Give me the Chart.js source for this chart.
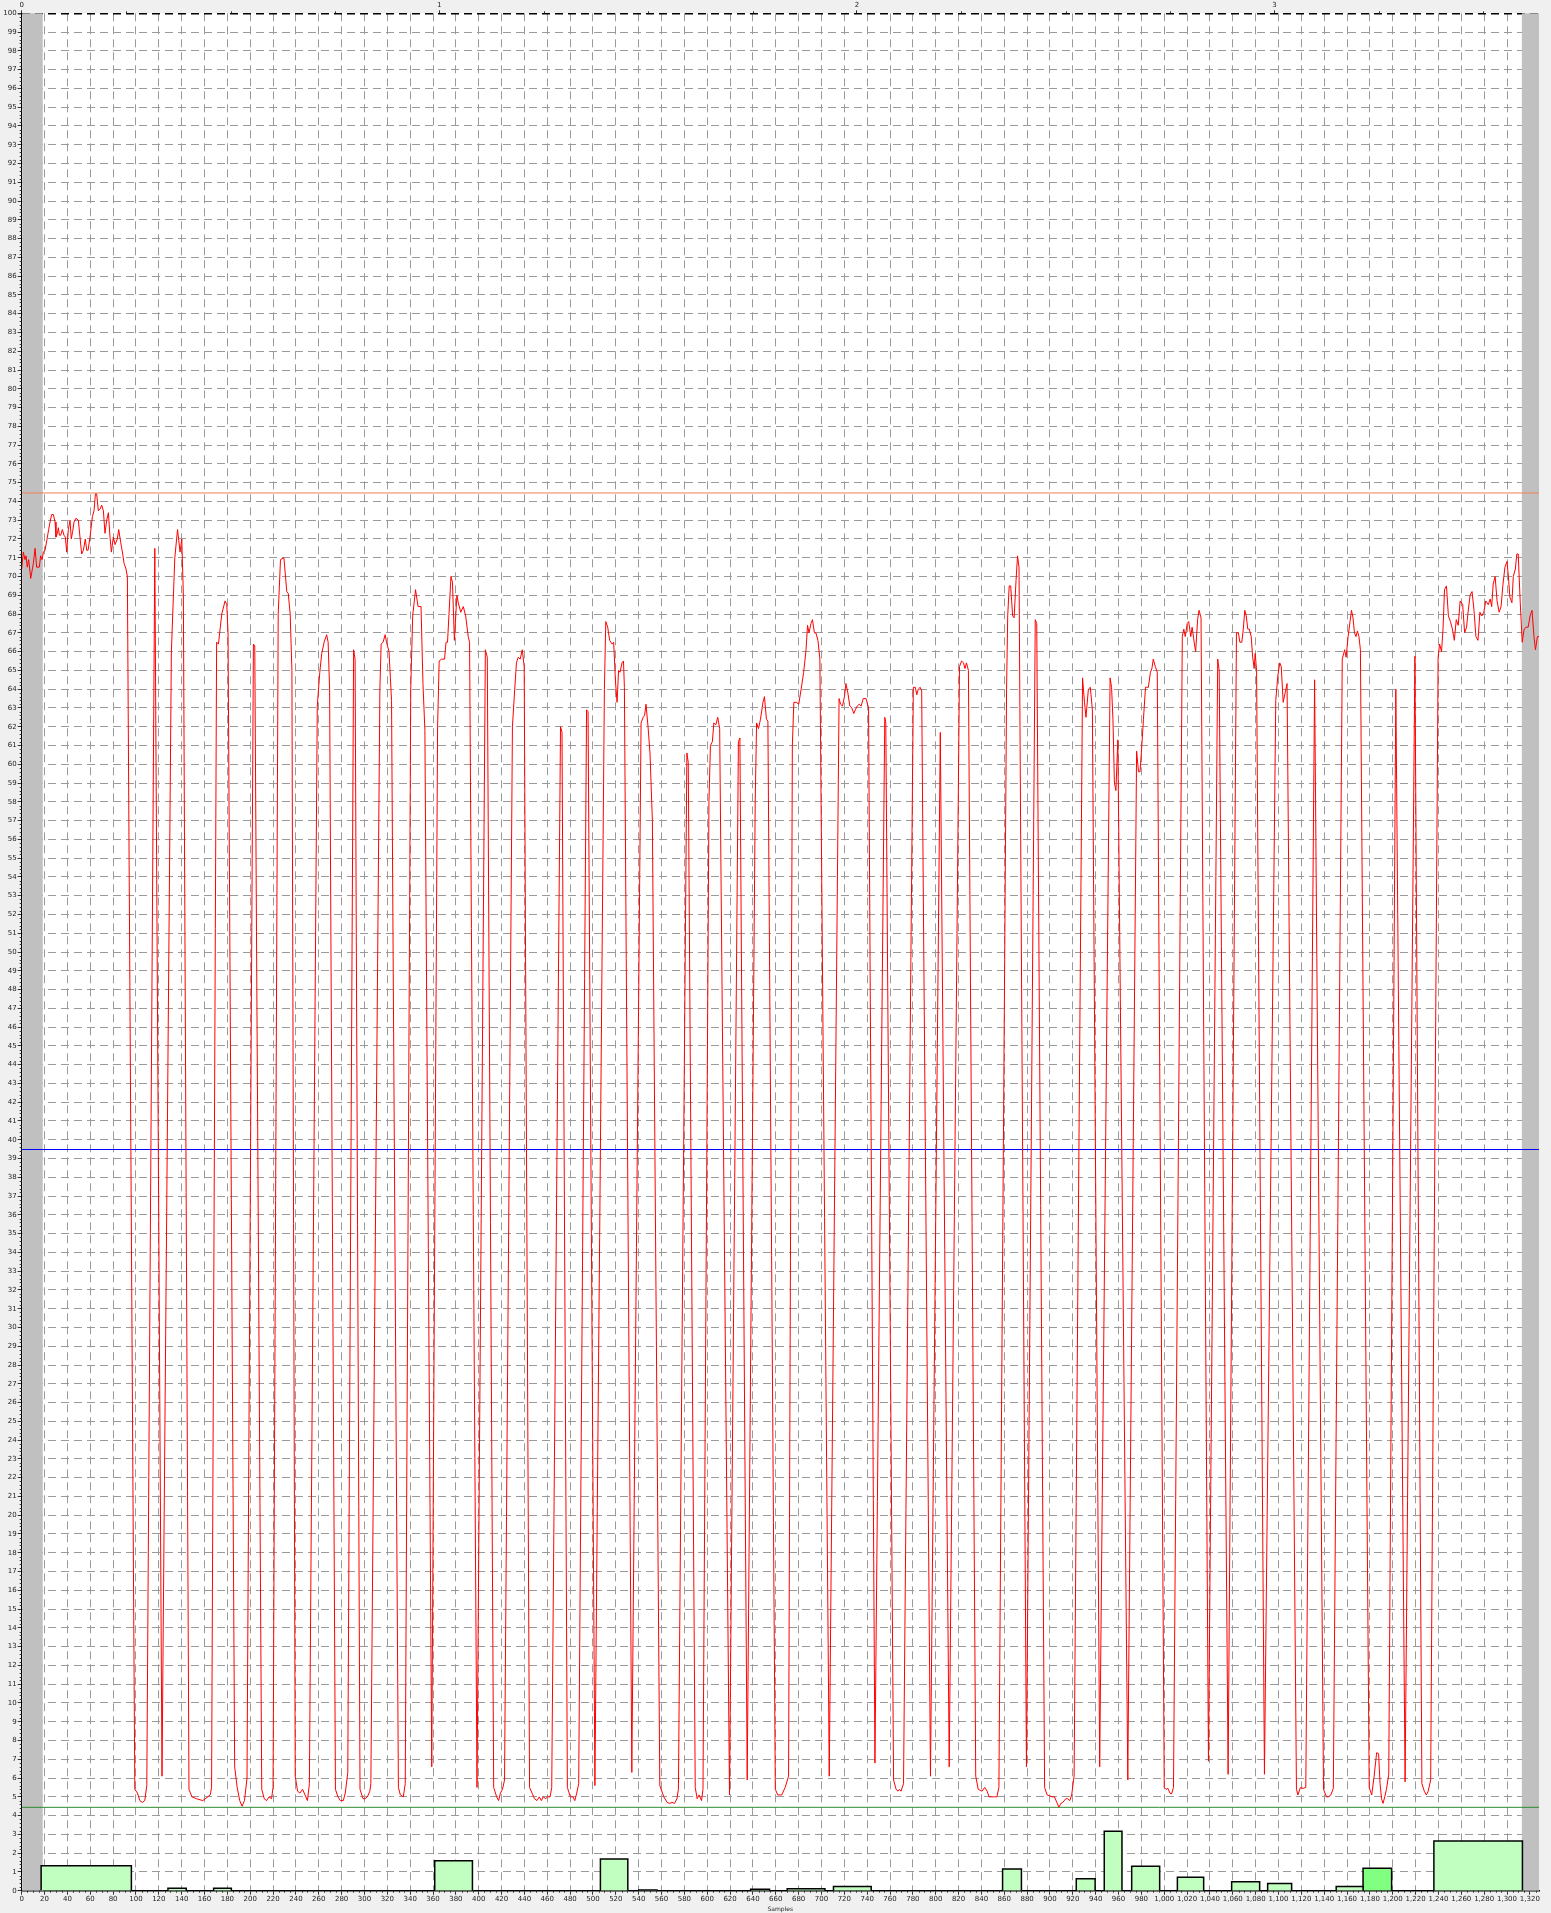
<!DOCTYPE html>
<html>
<head>
<meta charset="utf-8">
<script src="https://cdn.jsdelivr.net/npm/chart.js@4.4.0/dist/chart.umd.min.js"></script>
<style>
html, body { margin: 0; padding: 0; background: #f0f0f0; }
canvas { display: block; }
</style>
</head>
<body>
<canvas id="signalChart" width="1551" height="1913"></canvas>
<script>
// signal trace: [sample, value]
const signalTrace = [
  [0,70.4],[1.4,71.3],[2.9,70.9],[3.8,71.1],[4.9,70.5],[6.1,70.9],[7.9,69.9],[10.2,70.7],[11.7,71.5],[13.1,70.5],[15.4,70.5],[16.6,71.1],[17.8,70.9],[19,71.3],[20.4,71.4],[21.9,71.9],[23.6,72.5],[24.8,72.9],[26.2,73.3],[27.7,73.3],[29.2,72.9],[30,72.1],[31.2,72.3],[32.1,72.6],[33,72.2],[34.1,72.2],[35.6,72.5],[37,72.2],[38.2,72.1],[39.4,71.3],[40.8,72.5],[42.3,73],[43.4,72],[44.6,72.4],[45.8,72.9],[47.5,73.1],[49.6,73],[51,72.1],[52.5,71.2],[54,71.4],[55.7,72],[56.9,71.4],[58.1,71.4],[59.8,72.1],[61.9,73.2],[63.3,73.5],[64.5,74.4],[65.6,74.4],[67.1,73.5],[68.6,73.6],[70,73.8],[71.5,73.5],[72.9,72.3],[74.4,73],[75.9,73.4],[77.3,72.1],[78.5,71.3],[80.2,72.1],[81.7,71.7],[83.7,72],[84.9,72.5],[86.7,71.8],[88.4,71.2],[89.6,70.7],[91.3,70.4],[92.5,70],
  [99,5.4],[101.3,5.2],[103.4,4.8],[105.6,4.7],[107.7,4.8],[109.5,5.6],
  [116.5,71.5],
  [122.8,6.1],
  [131,66],[134,71],[136.4,72.5],[137.5,71.9],[138.6,71.3],[140.1,72],[141.5,69],
  [146.4,5.4],[149,5],[152.9,4.9],[158.5,4.8],[165,5.1],[166.2,5.5],
  [170.6,66.5],[172.2,66.4],[175.1,68],[178,68.7],[179.5,68.5],[180.6,67],
  [186.4,6.6],[188.6,5.5],[190.8,4.8],[192.9,4.5],[195,4.8],[197.2,6],
  [202.8,66.4],[204,66.3],
  [210.1,5.4],[212.3,4.9],[214.4,4.8],[216.5,5],[218.7,4.9],[220,5.5],
  [224.5,68],[226.5,70.9],[229.5,71],[232,69.2],[233.3,69.1],[235,68],[236.5,65],
  [239.4,6.1],[241.5,5.3],[243.5,5.2],[245.8,5.4],[248,5.1],[250.1,4.8],[251.8,5.7],
  [258.7,63.1],[260.9,64.9],[262.6,65.9],[264.7,66.5],[266.9,66.9],[268.2,66.5],[269.5,64],
  [274.6,5.4],[276.8,5],[278.9,4.8],[281.5,4.8],[283.2,5.2],[285.4,6.3],
  [290.5,66.1],[291.8,65.6],
  [296.1,5.4],[298.7,4.9],[300.5,4.9],[302.6,5],[304.7,5.3],[305.6,5.7],
  [313.5,64],[314.6,66.4],[316.3,66.5],[318.1,66.9],[319.3,66.5],[321.5,66],[323.7,63.4],
  [329.7,5.5],[331.4,5.1],[334,5],[335.7,5.7],
  [340.5,64],[342.2,67.9],[344.7,69.3],[346.9,68.4],[349.5,68.4],[351.2,64.3],[352.9,61.8],
  [358.9,6.6],
  [364,62],[365.4,65.5],[367.5,65.6],[370.1,65.6],[371.4,66.5],[372.7,66.5],[375.7,70],[377,69.7],[378.7,66.6],[380.9,69],[382.1,68.6],[384.3,68.1],[386.5,68.4],[388.6,67.9],[390.8,66.8],[392,66.5],
  [398.5,5.5],
  [405.8,66.1],[407.5,65.7],
  [413.1,5.5],[415.7,5],[417.4,4.8],[419,5.2],[420.8,5.4],[422.6,5.9],
  [429.5,62],[430.8,63.3],[433,65.4],[434.6,65.7],[436.3,65.6],[438.1,66.1],[439.8,65.2],
  [444.5,5.5],[446.7,5.2],[448.8,4.9],[451,4.8],[453,5],[454.8,4.8],[456.5,5],[458.6,4.9],[460.3,5],[462.5,5],[463.9,5.5],
  [471.6,62],[472.9,61.7],
  [477.6,5.5],[480.2,5],[482.4,5],[484.1,4.8],[485.8,5.2],[487.5,5.7],
  [494.4,62.9],[495.7,62.8],
  [501.7,5.6],
  [510,64],[511.2,67.6],[512.9,67.3],[514.6,66.6],[516.8,66.4],[518.1,66.5],[519.8,64.3],[521.1,63.3],[522.4,65],[523.7,64.9],[525.4,65.4],[526.7,65.5],[527.5,64.1],
  [534,6.3],
  [542.1,62.2],[543.9,62.5],[545.2,62.6],[546.4,63.2],[548.2,62],[549.9,60.6],[552,57],
  [558.5,5.6],[562,5],[565,4.7],[567.1,4.65],[569.2,4.7],[571.4,4.65],[573.5,4.9],[574.8,5.4],
  [582.2,60.6],[583.4,60.1],
  [589.5,5.5],[591.2,4.9],[592.9,5.1],[595,4.8],[596.3,5.4],
  [601.5,58],[602.8,61],[604.5,61.2],[605.8,62.2],[607.5,62.1],[609.2,62.5],[610.9,61.9],
  [619.5,5.1],
  [627.3,61.2],[628.6,61.4],
  [635,5.9],
  [642,58],[643.2,62.2],[644.9,61.9],[646.6,62.4],[648.8,63.3],[650.1,63.6],[651.8,62.4],[653.1,62.3],
  [659.6,5.4],[661.7,5.1],[665.2,5.1],[668.2,5.5],[671.2,6.1],
  [674.5,61],[675.8,63.3],[677.9,63.3],[680.1,63.2],[682.2,64],[684.4,64.9],[686.5,66.1],[687.8,67.4],[689.1,67],[690.8,67.5],[692.1,67.7],[693.8,67],[695.1,67],[696.9,66.6],[698.6,65.6],
  [706.8,6.1],
  [715.4,63.5],[716.7,63.2],[718.4,63.1],[720.1,63.6],[721.4,64.3],[723.1,63.8],[724.8,63.1],[726.6,63],[728.3,62.7],[729.6,62.9],[731.3,63.1],[733,63.2],[734.7,63.1],[736.5,63.5],[739,63.5],[741.2,63],
  [746.8,6.8],
  [755.4,62.5],[756.3,62.2],
  [763.1,5.9],[765.3,5.4],[767,5.3],[768.3,5.4],[769.6,5.3],[771.8,5.7],
  [780.4,64.1],[782.1,64.1],[783.4,63.7],[784.7,64],[786.4,64.1],[787.7,63.9],
  [795.4,6.1],
  [804,61.7],
  [811.8,6.6],
  [820.8,65.2],[822.6,65.5],[824.3,65.4],[825.6,65.1],[826.9,65.4],[828.6,65],
  [835,6.1],[837.2,5.4],[840.6,5.3],[842.8,5.5],[845,5.3],[846.7,5],[849,5],[851.4,5],[853.5,5],[855.3,5.5],
  [862,64],[863,67.9],[864.3,69.5],[865.6,69.5],[867.3,67.9],[868.6,67.8],[870.3,69.8],[871.6,71.1],[872.9,70.5],
  [879.4,6.6],
  [887.1,67.7],[888.4,67.5],
  [895.3,5.5],[897.5,5.1],[899.6,5.05],[901.8,5],[903.9,5],[906,4.7],[907.8,4.45],[909.5,4.65],[911.2,4.7],[913.8,4.9],[915.5,4.9],[917.3,4.8],[919,5.1],[921.1,6.1],
  [928.5,64.6],[930.2,63.3],[931.5,62.5],[933.6,64],[935.3,64.1],[937.1,62.9],
  [943.5,6.6],
  [952.6,64.6],[953.9,64.1],[955.1,62.4],[956.4,59],[957.7,58.6],[959.4,61.3],
  [968.1,5.9],
  [975.8,60.7],[977.5,59.6],[978.8,59.6],[980.5,61.1],[981.8,62.4],[983.6,64.1],[984.8,64.1],[986.1,64.1],[987.9,64.9],[989.2,65.1],[990.4,65.6],[992.2,65.2],[993.9,64.9],
  [1000,5.5],[1001.6,5.4],[1003.2,5.45],[1005,5.2],[1006.4,5.15],[1008.1,5.5],
  [1015.8,66.8],[1017.1,67.2],[1018.4,66.8],[1020.1,67.5],[1021.4,67.6],[1023.2,66.8],[1024.4,67.3],[1026.2,66.5],[1027.5,66],[1029.2,67.7],[1030.5,68.2],[1032.2,67.8],
  [1038.7,6.9],
  [1046.8,65.6],[1048.1,65],
  [1055.9,6.2],
  [1063.2,67],[1064.9,67],[1066.2,66.5],[1067.9,66.5],[1069.2,67.2],[1070.5,68.2],[1071.8,67.9],[1073.1,67.2],[1074.4,67.2],[1076.1,66.8],[1077.4,65.7],[1078.7,65.1],[1079.6,65.9],[1080.8,65],
  [1087.7,6.2],
  [1097.6,63.4],[1099.4,64.7],[1101.1,65.4],[1102.4,65.2],[1104.1,63.3],[1105.8,63.8],[1107.5,64.3],
  [1115.7,5.4],[1117,5.1],[1119.2,5.5],[1121.5,5.45],[1123.9,5.5],
  [1131.6,64.5],
  [1139.4,5.4],[1142,5],[1143.7,5],[1145.8,5.1],[1148,5.45],
  [1155.8,65.6],[1157.9,66.1],[1159.2,65.7],[1160.9,66.8],[1162.6,67.6],[1163.9,68.2],[1165.2,67.8],[1166.5,67],[1167.8,66.8],[1169.1,67.1],[1170.4,66.8],[1171.7,66.1],
  [1179.4,5.5],[1181.6,5.1],[1183.7,6.1],[1185.9,7.35],[1187.6,7.3],[1188.9,5.7],[1190.2,4.9],[1191.5,4.65],[1193,5],[1194.5,5.4],[1196.5,6.2],
  [1202.7,64],
  [1210.8,5.8],
  [1219.4,65.75],
  [1225.5,5.7],[1227.6,5.3],[1229.4,5.1],[1231,5.3],[1233.2,5.9],
  [1239.7,65.7],[1241,66.4],[1242.7,66],[1244,67.2],[1245.3,69.3],[1247,69.5],[1248.7,67.9],[1250.5,67.6],[1252.2,67.2],[1253.9,66.6],[1255.6,67.7],[1257.3,67.4],[1259,68.7],[1261.2,68.5],[1262.9,67],[1264.6,67.3],[1265.9,68.1],[1267.7,69],[1269.4,69.2],[1271.1,68.2],[1272.8,66.8],[1274.6,66.6],[1276.3,68.1],[1278,67.9],[1279.7,68.1],[1281.4,68.7],[1283.6,68.5],[1285.3,68.8],[1286.6,68.4],[1287.9,69.6],[1289.6,70],[1291.3,68.7],[1293.1,68.1],[1294.8,68.4],[1296.5,69.6],[1298.2,70.5],[1300,70.8],[1301.2,70],[1302.5,68.9],[1304.3,68.6],[1305.5,70],[1307.3,70.4],[1308.6,71.2],[1309.8,71.2],[1311.6,68.6],[1313.3,66.5],[1315,67.2],[1316.7,67.3],[1318.5,67.3],[1320.2,67.9],[1321.9,68.2],[1323.6,66.8],[1324.9,66.1],[1326.6,66.8],[1328,66.8]
];

// histogram of the lower panel
const binStart = [17, 128, 168, 361.5, 506.5, 540, 638, 670, 710.5, 858.5, 923, 947.5, 971.5, 1011.5, 1059, 1090.5, 1150.5, 1174, 1236];
const binEnd   = [96, 144, 183.5, 394.5, 530.5, 556, 654.5, 703, 743.5, 875, 939.5, 963, 996, 1034.5, 1083.5, 1111.5, 1174, 1199, 1313.5];
const binCount = [1.33, 0.13, 0.13, 1.6, 1.69, 0.04, 0.08, 0.1, 0.23, 1.16, 0.64, 3.16, 1.3, 0.71, 0.48, 0.39, 0.23, 1.19, 2.65];
const selectedBin = 17;

const upperLimit = 74.45;
const midLevel = 39.48;
const lowerLimit = 4.44;
const shadedRanges = [[0, 18.4], [1313, 1328]];
const xMax = 1328;
const samplesPerSecond = 365.5;

const font7 = { family: 'DejaVu Sans', size: 7 };

const datasets = [];
binStart.forEach((x0, i) => {
  const x1 = binEnd[i], h = binCount[i];
  datasets.push({
    data: [{ x: x0, y: 0 }, { x: x0, y: h }, { x: x1, y: h }, { x: x1, y: 0 }],
    borderColor: '#000', borderWidth: 1.5,
    backgroundColor: i === selectedBin ? '#80ff80' : '#c0ffc0',
    fill: 'origin', pointRadius: 0, tension: 0, order: 3
  });
});
[[upperLimit, '#f08050'], [midLevel, '#0000ff'], [lowerLimit, '#2e8b2e']].forEach(([v, c]) => {
  datasets.push({
    data: [{ x: 0, y: v }, { x: xMax, y: v }],
    borderColor: c, borderWidth: 1, pointRadius: 0, fill: false, order: 2
  });
});
datasets.push({
  data: signalTrace.map(p => ({ x: p[0], y: p[1] })),
  borderColor: '#ff0000', borderWidth: 1, pointRadius: 0, tension: 0, fill: false, order: 1
});

const decor = {
  id: 'decor',
  beforeDraw(chart) {
    const { ctx, chartArea: a } = chart;
    ctx.save();
    ctx.fillStyle = '#ffffff';
    ctx.fillRect(a.left, a.top, a.width, a.height);
    ctx.restore();
  },
  beforeDatasetsDraw(chart) {
    const { ctx, chartArea: a, scales: { x } } = chart;
    ctx.save();
    ctx.fillStyle = '#c0c0c0';
    shadedRanges.forEach(([s0, s1]) => {
      const p0 = Math.max(x.getPixelForValue(s0), a.left + 0.5);
      const p1 = x.getPixelForValue(s1);
      ctx.fillRect(p0, a.top, p1 - p0, a.height);
    });
    ctx.restore();
  },
  afterDraw(chart) {
    const { ctx, scales: { x, y, x2 } } = chart;
    ctx.save();
    ctx.strokeStyle = '#333';
    ctx.lineWidth = 1;
    ctx.beginPath();
    for (let i = 1; i < 500; i++) {
      if (i % 5 === 0) continue;
      const py = Math.round(y.getPixelForValue(i / 5)) + 0.5;
      ctx.moveTo(y.right - 2, py); ctx.lineTo(y.right, py);
    }
    for (let v = 5; v < xMax; v += 5) {
      if (v % 20 === 0) continue;
      const px = Math.round(x.getPixelForValue(v)) + 0.5;
      ctx.moveTo(px, x.top); ctx.lineTo(px, x.top + 2);
    }
    for (let i = 1; i / 4 < x2.max; i++) {
      if (i % 4 === 0) continue;
      const px = Math.round(x2.getPixelForValue(i / 4)) + 0.5;
      ctx.moveTo(px, x2.bottom); ctx.lineTo(px, x2.bottom - 2);
    }
    ctx.stroke();
    ctx.restore();
  }
};

new Chart(document.getElementById('signalChart').getContext('2d'), {
  type: 'line',
  data: { datasets },
  plugins: [decor],
  options: {
    responsive: false,
    animation: false,
    devicePixelRatio: 1,
    layout: { padding: { left: 0, right: 12, top: 0, bottom: 0 } },
    plugins: { legend: { display: false }, tooltip: { enabled: false } },
    scales: {
      x: {
        type: 'linear', position: 'bottom', min: 0, max: xMax,
        ticks: {
          stepSize: 20, includeBounds: false, autoSkip: false, maxRotation: 0, minRotation: 0,
          padding: 0, font: font7, color: '#222',
          callback: v => v.toLocaleString('en-US')
        },
        grid: { color: '#9a9a9a', lineWidth: 1, tickLength: 4, tickColor: '#333' },
        border: { display: true, color: '#000', width: 1.5, dash: [8, 5] },
        title: { display: true, text: 'Samples', font: { family: 'DejaVu Sans', size: 6 }, color: '#222', padding: { top: 0, bottom: 0 } },
        afterFit: s => { s.height = 22.3; }
      },
      x2: {
        type: 'linear', position: 'top', min: 0, max: xMax / samplesPerSecond,
        ticks: { stepSize: 1, includeBounds: false, autoSkip: false, maxRotation: 0, padding: 1, font: font7, color: '#222' },
        grid: { drawOnChartArea: false, tickLength: 3, tickColor: '#333' },
        border: { display: false },
        afterFit: s => { s.height = 13.3; }
      },
      y: {
        type: 'linear', position: 'left', min: 0, max: 100,
        ticks: { stepSize: 1, autoSkip: false, padding: 1, font: font7, color: '#222', includeBounds: false },
        grid: {
          color: c => (c.tick && c.tick.value === 100 ? '#000' : '#9a9a9a'),
          lineWidth: c => (c.tick && c.tick.value === 100 ? 1.5 : 1),
          tickLength: 4, tickColor: '#333'
        },
        border: { display: true, color: '#000', width: 1, dash: [8, 5] },
        afterFit: s => { s.width = 21.7; }
      }
    }
  }
});
</script>
</body>
</html>
